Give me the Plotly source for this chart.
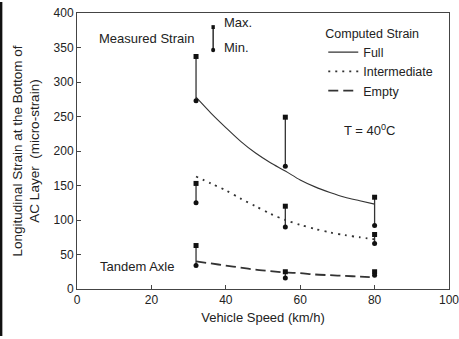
import plotly.graph_objects as go

# ---- data ----
speeds = [32, 56, 80]
full_max = [337, 249, 133]
full_min = [273, 178, 92]
inter_max = [153, 120, 79]
inter_min = [125, 90, 66]
empty_max = [63, 25, 25]
empty_min = [34, 16, 20]

curve_x = [32, 36, 40, 44, 48, 52, 56, 60, 64, 68, 72, 76, 80]
full_curve = [278, 255, 234, 214, 197, 183, 171, 158, 148, 140, 133, 128, 123]
inter_curve = [163, 153, 143, 131, 120, 109, 100, 93, 87, 82, 78, 75, 72]
empty_curve = [40, 37, 34, 31, 28, 26, 24, 23, 21, 20, 19, 18, 17]

x_ticks = [0, 20, 40, 60, 80, 100]
y_ticks = [0, 50, 100, 150, 200, 250, 300, 350, 400]

FONT = "Liberation Sans, Arial, sans-serif"
INK = "#222222"

fig = go.Figure()

# computed curves
styles = {"Full": ("solid", 1.1), "Intermediate": ("2px,5px", 1.8), "Empty": ("10px,5px", 1.8)}
for name, ys in [("Full", full_curve), ("Intermediate", inter_curve), ("Empty", empty_curve)]:
    dash, w = styles[name]
    fig.add_trace(go.Scatter(
        x=curve_x, y=ys, mode="lines", name=name,
        line=dict(color="#333333", width=w, dash=dash, shape="spline", smoothing=0.8)))

# measured max/min bars
for mx, mn in [(full_max, full_min), (inter_max, inter_min), (empty_max, empty_min)]:
    xs, ys, syms = [], [], []
    for s, a, b in zip(speeds, mx, mn):
        xs += [s, s, None]
        ys += [a, b, None]
        syms += ["square", "circle", "circle"]
    fig.add_trace(go.Scatter(
        x=xs, y=ys, mode="lines+markers", showlegend=False,
        line=dict(color="#333333", width=1.3),
        marker=dict(color="#111111", size=5, symbol=syms)))

axis_common = dict(showline=True, linecolor="#444444", linewidth=1, mirror=True,
                   ticks="inside", ticklen=4, tickcolor="#444444", showgrid=False,
                   zeroline=False, automargin=False, ticklabeloverflow="allow",
                   tickfont=dict(family=FONT, size=12, color=INK))

fig.update_layout(
    width=459, height=339,
    margin=dict(l=77, r=10, t=13, b=50),
    plot_bgcolor="white", paper_bgcolor="white",
    font=dict(family=FONT, size=13, color=INK),
    xaxis=dict(range=[0, 100], tickvals=x_ticks, **axis_common,
               title=dict(text="Vehicle Speed (km/h)", standoff=6,
                          font=dict(family=FONT, size=13, color=INK))),
    yaxis=dict(range=[0, 400], tickvals=y_ticks, **axis_common,
               title=dict(text="Longitudinal Strain at the Bottom of<br>AC Layer  (micro-strain)",
                          standoff=10, font=dict(family=FONT, size=13.5, color=INK))),
    legend=dict(x=0.662, y=0.97, xanchor="left", yanchor="top",
                bgcolor="rgba(0,0,0,0)", font=dict(family=FONT, size=12.5, color=INK),
                title=dict(text="Computed Strain", font=dict(family=FONT, size=12.5, color=INK)),
                tracegroupgap=0, itemwidth=30),
    annotations=[
        dict(text="Measured Strain", x=0.053, y=0.908, xref="paper", yref="paper",
             xanchor="left", yanchor="middle", showarrow=False),
        dict(text="Max.", x=0.39, y=0.966, xref="paper", yref="paper",
             xanchor="left", yanchor="middle", showarrow=False),
        dict(text="Min.", x=0.39, y=0.876, xref="paper", yref="paper",
             xanchor="left", yanchor="middle", showarrow=False),
        dict(text="T = 40<sup>0</sup>C", x=0.712, y=0.575, xref="paper", yref="paper",
             xanchor="left", yanchor="middle", showarrow=False),
        dict(text="Tandem Axle", x=0.056, y=0.08, xref="paper", yref="paper",
             xanchor="left", yanchor="middle", showarrow=False),
    ],
    shapes=[
        dict(type="line", xref="paper", yref="paper", x0=0.366, x1=0.366, y0=0.949, y1=0.866,
             line=dict(color="#222222", width=1.4)),
        dict(type="rect", xref="paper", yref="paper", x0=0.3615, x1=0.3705, y0=0.942, y1=0.956,
             fillcolor="#111111", line=dict(width=0)),
        dict(type="circle", xref="paper", yref="paper", x0=0.3605, x1=0.3715, y0=0.858, y1=0.874,
             fillcolor="#111111", line=dict(width=0)),
        dict(type="line", xref="paper", yref="paper", x0=-0.204, x1=-0.204, y0=-0.17, y1=1.04,
             line=dict(color="#111111", width=2.5)),
    ],
)

fig.write_html("out.html")
